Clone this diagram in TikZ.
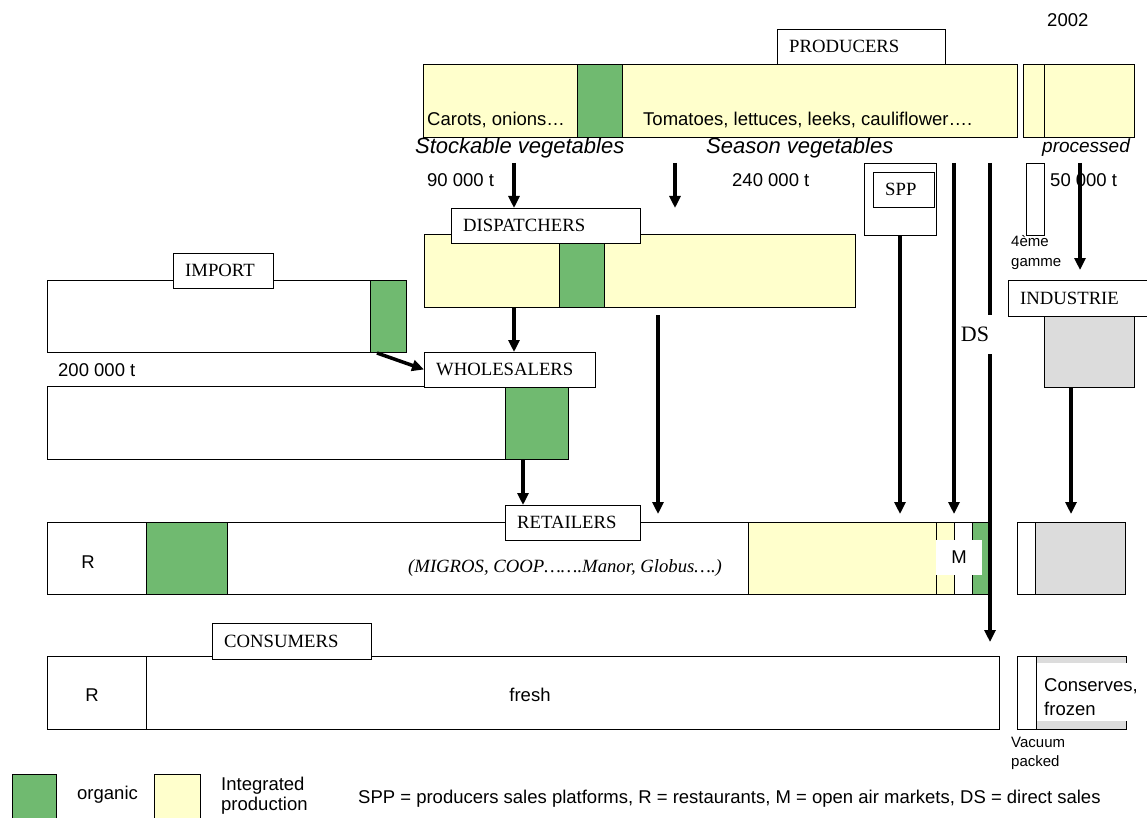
\documentclass[tikz,border=0pt]{standalone}
\usepackage{fontspec}
\setmainfont{Liberation Serif}
\setsansfont{Liberation Sans}
\newfontfamily\arialf{Liberation Sans}
\newfontfamily\timesf{Liberation Serif}
\usetikzlibrary{arrows.meta}
\definecolor{orggreen}{RGB}{112,186,112}
\definecolor{ipyellow}{RGB}{255,255,204}
\definecolor{indgray}{RGB}{220,220,220}
\newcommand\fsans{\arialf\fontsize{18.5}{22}\selectfont}
\newcommand\fsmall{\arialf\fontsize{15}{19}\selectfont}
\newcommand\fital{\arialf\itshape\fontsize{22}{24}\selectfont}
\newcommand\fserif{\timesf\fontsize{18.7}{21}\selectfont}
\newcommand\blk[6]{\node[#1,anchor=north west,inner sep=0pt,outer sep=0pt,minimum width={#5-#3},minimum height={#6-#4}] (#2) at (#3,#4) {};}
\begin{document}
\begin{tikzpicture}[x=1pt,y=-1pt,
  wb/.style={draw=black,line width=0.9pt,fill=white},
  org/.style={draw=black,line width=0.9pt,fill=orggreen},
  ipf/.style={draw=black,line width=0.9pt,fill=ipyellow},
  gry/.style={draw=black,line width=0.9pt,fill=indgray},
  ltext/.style={anchor=west,inner xsep=12pt,inner ysep=0pt,font=\fserif},
  stxt/.style={inner sep=0pt,font=\fsans},
  arr/.style={line width=3.5pt,-{Triangle[length=12pt,width=11pt]}},
  vln/.style={line width=3.5pt}]
\useasboundingbox (0,0) rectangle (1147,818);
\fill[white] (0,0) rectangle (1147,818);

\node[stxt,anchor=base west] (year) at (1047,27) {2002};

% ---------------- PRODUCERS
\blk{ipf}{pbar}{423}{64}{1017}{137}
\blk{org}{porg}{577}{64}{622}{137}
\blk{ipf}{p4g}{1023}{64}{1044}{137}
\blk{ipf}{pproc}{1044}{64}{1134}{137}
\blk{wb}{prodB}{777}{29}{945}{64}
\node[ltext] (prodT) at (prodB.west) {PRODUCERS};
\node[stxt,anchor=base west] (carots) at (427,126) {Carots, onions…};
\node[stxt,anchor=base west] (tomat) at (643,126) {Tomatoes, lettuces, leeks, cauliflower….};
\node[inner sep=0pt,font=\fital,anchor=base west] (stock) at (415,154) {Stockable vegetables};
\node[inner sep=0pt,font=\fital,anchor=base west] (season) at (706,154) {Season vegetables};
\node[inner sep=0pt,font=\arialf\itshape\fontsize{19}{22}\selectfont,anchor=base west] (proc) at (1042,153) {processed};
\node[stxt,anchor=base west] (t90) at (427,187) {90 000 t};
\node[stxt,anchor=base west] (t240) at (732,187) {240 000 t};
\node[stxt,anchor=base west] (t50) at (1050,187) {50 000 t};

% SPP and 4eme gamme
\blk{wb}{sppO}{864}{163}{936}{235}
\blk{wb}{sppI}{873}{172}{934}{207}
\node[ltext] (sppT) at (sppI.west) {SPP};
\blk{wb}{g4}{1026}{163}{1044}{235}
\node[inner sep=0pt,font=\fsmall,anchor=base west] (g4a) at (1011,247) {4ème};
\node[inner sep=0pt,font=\fsmall,anchor=base west] (g4b) at (1011,266) {gamme};

% ---------------- DISPATCHERS
\blk{ipf}{dbar}{424}{234}{855}{307}
\blk{org}{dorg}{559}{234}{604}{307}
\blk{wb}{dispB}{451}{208}{640}{243}
\node[ltext] (dispT) at (dispB.west) {DISPATCHERS};

% ---------------- IMPORT
\blk{wb}{ibar}{47}{280}{406}{352}
\blk{org}{iorg}{370}{280}{406}{352}
\blk{wb}{impB}{173}{253}{273}{288}
\node[ltext] (impT) at (impB.west) {IMPORT};
\node[stxt,anchor=base west] (t200) at (58,376) {200 000 t};

% ---------------- WHOLESALERS
\blk{wb}{wbar}{47}{386}{568}{459}
\blk{org}{worg}{505}{386}{568}{459}
\blk{wb}{whB}{424}{352}{595}{387}
\node[ltext] (whT) at (whB.west) {WHOLESALERS};

% ---------------- INDUSTRIE
\blk{gry}{indg}{1044}{316}{1134}{387}
\blk{wb}{indB}{1008}{280}{1147}{316}
\node[ltext] (indT) at (indB.west) {INDUSTRIE};

% ---------------- RETAILERS
\blk{wb}{rbar}{47}{522}{748}{594}
\blk{org}{rorg}{146}{522}{227}{594}
\blk{ipf}{ryel}{748}{522}{936}{594}
\blk{ipf}{rmy}{936}{522}{954}{594}
\blk{wb}{rmw}{954}{522}{972}{594}
\blk{org}{rdsg}{972}{522}{990}{594}
\node[fill=white,inner sep=0pt,minimum width=46pt,minimum height=35pt,font=\fsans] (mlab) at (959,557.5) {M};
\blk{wb}{rrw}{1017}{522}{1035}{594}
\blk{gry}{rrg}{1035}{522}{1125}{594}
\node[stxt] (rR) at (88,562) {R};
\node[inner sep=0pt,font=\timesf\itshape\fontsize{18.7}{21}\selectfont,anchor=base west] (migros) at (408,572) {(MIGROS, COOP…….Manor, Globus….)};
\blk{wb}{retB}{505}{505}{640}{540}
\node[ltext] (retT) at (retB.west) {RETAILERS};

% ---------------- CONSUMERS
\blk{wb}{cR}{47}{656}{146}{729}
\blk{wb}{cbar}{146}{656}{999}{729}
\blk{wb}{cvw}{1017}{656}{1036}{729}
\blk{gry}{cvg}{1036}{656}{1126}{729}
\node[fill=white,inner sep=0pt,anchor=north west,minimum width=110pt,minimum height=58pt] (cwhite) at (1037,663) {};
\node[stxt,anchor=base west] (conserv) at (1044,691) {Conserves,};
\node[stxt,anchor=base west] (frozen) at (1044,715) {frozen};
\node[stxt] (cRt) at (92,695) {R};
\node[stxt] (fresh) at (530,695) {fresh};
\blk{wb}{conB}{212}{623}{371}{659}
\node[ltext] (conT) at (conB.west) {CONSUMERS};
\node[inner sep=0pt,font=\fsmall,anchor=base west] (vac) at (1011,747) {Vacuum};
\node[inner sep=0pt,font=\fsmall,anchor=base west] (pack) at (1011,766) {packed};

% ---------------- connectors
\coordinate (s1) at (514,163);
\coordinate (s2) at (675,163);
\coordinate (s3) at (658,315);
\coordinate (sM) at (954,163);
\coordinate (sDS) at (990,163);
\coordinate (sP) at (1080,163);
\coordinate (eR) at (0,514);
\coordinate (eC) at (0,642);
\coordinate (eP) at (0,270);
\coordinate (e2) at (0,208);
\coordinate (iout) at (377,353);
\draw[arr] (s1) -- (s1 |- dispB.north);
\draw[arr] (s2) -- (s2 |- e2);
\draw[arr] (s1 |- dbar.south) -- (s1 |- whB.north);
\draw[arr] (iout) -- (whB.west);
\draw[arr] (523,459) -- (523,505);
\draw[arr] (s3) -- (s3 |- eR);
\draw[arr] (sppO.south -| 900,0) -- (900,514);
\draw[arr] (sM) -- (sM |- eR);
\draw[arr] (sDS) -- (sDS |- eC);
\draw[arr] (sP) -- (sP |- eP);
\draw[arr] (indg.south -| 1071,0) -- (1071,514);
\node[fill=white,inner xsep=4pt,inner ysep=12pt,font=\timesf\fontsize{22}{24}\selectfont] (ds) at (975,334.5) {DS};

% ---------------- legend
\blk{org}{legO}{12}{774}{56}{818}
\node[stxt,anchor=base west] (legOt) at (77,799) {organic};
\blk{ipf}{legI}{154}{774}{200}{818}
\node[stxt,anchor=base west] (legIt1) at (221,790) {Integrated};
\node[stxt,anchor=base west] (legIt2) at (221,810) {production};
\node[stxt,anchor=base west] (legtxt) at (358,803) {SPP = producers sales platforms, R = restaurants, M = open air markets, DS = direct sales};
\end{tikzpicture}
\end{document}
